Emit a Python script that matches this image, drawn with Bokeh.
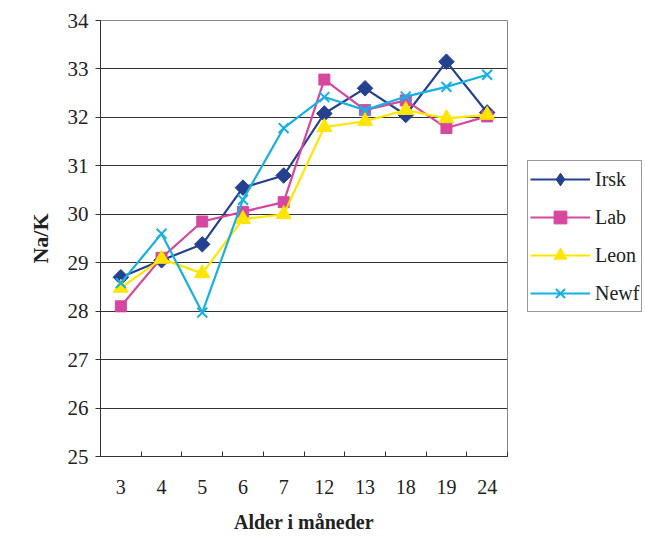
import math
from bokeh.plotting import figure
from bokeh.models import FixedTicker, Legend, LegendItem, Range1d
from bokeh.embed import file_html
from bokeh.resources import INLINE

# Age groups (months) and Na/K ratio per breed
ages = ["3", "4", "5", "6", "7", "12", "13", "18", "19", "24"]
irsk = [28.70, 29.05, 29.38, 30.55, 30.80, 32.08, 32.60, 32.05, 33.15, 32.10]
lab = [28.10, 29.10, 29.85, 30.05, 30.25, 32.78, 32.15, 32.35, 31.78, 32.02]
leon = [28.48, 29.08, 28.78, 29.90, 30.00, 31.80, 31.92, 32.15, 31.98, 32.05]
newf = [28.58, 29.60, 27.97, 30.30, 31.78, 32.42, 32.15, 32.43, 32.63, 32.88]

y_ticks = [25, 26, 27, 28, 29, 30, 31, 32, 33, 34]

serif = "Liberation Serif"
xs = list(range(len(ages)))

p = figure(frame_width=407, frame_height=436, output_backend="svg", toolbar_location=None,
           x_range=Range1d(-0.5, len(ages) - 0.5), y_range=Range1d(25, 34),
           min_border_left=100, min_border_right=0, min_border_top=20,
           min_border_bottom=81)
p.background_fill_color = "white"
p.border_fill_color = "white"
p.outline_line_color = "#888888"
p.outline_line_width = 1

p.xgrid.grid_line_color = None
p.ygrid.grid_line_color = "#333333"
p.ygrid.grid_line_width = 1
p.ygrid.ticker = FixedTicker(ticks=y_ticks)

# category axis: labels centred, small tick marks on category boundaries
p.xaxis.ticker = FixedTicker(ticks=xs, minor_ticks=[i - 0.5 for i in range(len(ages) + 1)])
p.xaxis.major_label_overrides = {i: a for i, a in enumerate(ages)}
p.xaxis.major_tick_line_color = None
p.xaxis.minor_tick_in = 5
p.xaxis.minor_tick_out = 0
p.xaxis.minor_tick_line_color = "#333333"
p.xaxis.axis_line_color = "#333333"
p.xaxis.major_label_text_font = serif
p.xaxis.major_label_text_font_size = "20px"
p.xaxis.major_label_text_color = "#222222"
p.xaxis.major_label_standoff = 17
p.xaxis.axis_label = "Alder i måneder"
p.xaxis.axis_label_text_font = serif
p.xaxis.axis_label_text_font_style = "bold"
p.xaxis.axis_label_text_font_size = "20px"
p.xaxis.axis_label_text_color = "#222222"
p.xaxis.axis_label_standoff = 14

p.yaxis.ticker = FixedTicker(ticks=y_ticks, minor_ticks=[])
p.yaxis.major_tick_in = 0
p.yaxis.major_tick_out = 5
p.yaxis.major_tick_line_color = "#333333"
p.yaxis.axis_line_color = "#333333"
p.yaxis.major_label_text_font = serif
p.yaxis.major_label_text_font_size = "21px"
p.yaxis.major_label_text_color = "#222222"
p.yaxis.major_label_standoff = 7
p.yaxis.axis_label = "Na/K"
p.yaxis.axis_label_text_font = serif
p.yaxis.axis_label_text_font_style = "bold"
p.yaxis.axis_label_text_font_size = "22px"
p.yaxis.axis_label_text_color = "#222222"
p.yaxis.axis_label_standoff = 12

# name, values, colour, plot marker, plot size, plot angle, legend marker
series = [
    ("Irsk", irsk, "#24408e", "square", 11, math.pi / 4, "diamond"),
    ("Lab", lab, "#d6479f", "square", 11, 0, None),
    ("Leon", leon, "#ffe500", "triangle", 15, 0, None),
    ("Newf", newf, "#16b0e2", "x", 14, 0, None),
]

items = []
for name, vals, color, marker, size, ang, leg_marker in series:
    ln = p.line(xs, vals, line_color=color, line_width=2.2)
    kw = dict(marker=marker, size=size, angle=ang, line_color=color, fill_color=color)
    if marker == "x":
        kw["line_width"] = 2
    sc = p.scatter(xs, vals, **kw)
    rends = [ln, sc]
    if leg_marker is not None:
        # legend swatch only: markers in the key are drawn unrotated
        key = p.scatter(xs, vals, marker=leg_marker, size=size, line_color=color,
                        fill_color=color, visible=False)
        rends = [ln, key]
    items.append(LegendItem(label=name, renderers=rends))

legend = Legend(items=items, location=(20, 144))
legend.border_line_color = "#333333"
legend.border_line_width = 1
legend.background_fill_color = "white"
legend.label_text_font = serif
legend.label_text_font_size = "20px"
legend.label_text_color = "#222222"
legend.glyph_width = 60
legend.glyph_height = 32
legend.spacing = 6
legend.padding = 2
legend.margin = 0
legend.label_standoff = 5
p.add_layout(legend, "right")

open("out.html", "w").write(file_html(p, INLINE))
